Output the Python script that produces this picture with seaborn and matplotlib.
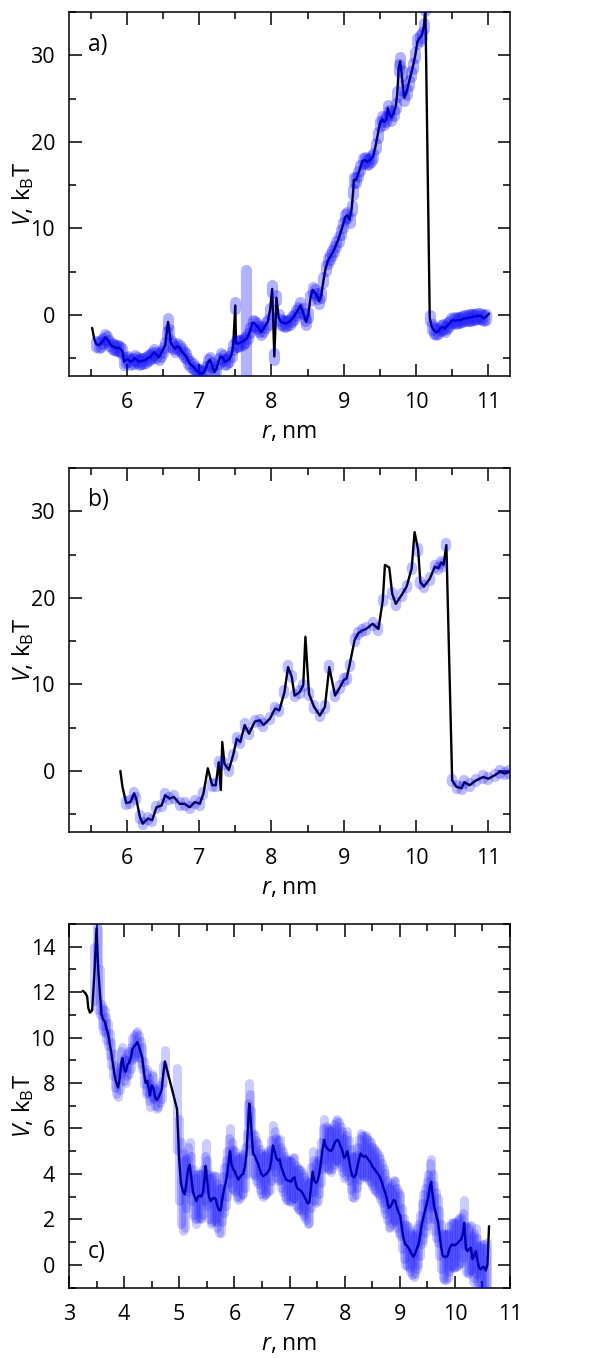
import numpy as np
import pandas as pd
import matplotlib
matplotlib.use("Agg")
import matplotlib.pyplot as plt
from matplotlib.ticker import MultipleLocator
import seaborn as sns

# ---------------- data ----------------
N = None
r_a = [5.52, 5.55, 5.58, 5.61, 5.64, 5.67, 5.70, 5.73, 5.76, 5.79, 5.82, 5.85, 5.88, 5.91, 5.94,
       5.96, 5.99, 6.02, 6.05, 6.08, 6.11, 6.14, 6.17, 6.20, 6.23, 6.26, 6.29, 6.32, 6.35, 6.38, 6.41, 6.44, 6.47, 6.50, 6.53,
       6.55, 6.57, 6.59, 6.61, 6.64, 6.67, 6.70, 6.73, 6.76, 6.79, 6.82, 6.85, 6.88, 6.91, 6.94, 6.97, 7.00, 7.03, 7.06, 7.09,
       7.12, 7.15, 7.18, 7.21, 7.24, 7.27, 7.30, 7.33, 7.36, 7.39, 7.42, 7.45, 7.47, 7.50, 7.51, 7.54, 7.57, 7.60, 7.63, 7.65, 7.68,
       7.71, 7.74, 7.77, 7.80, 7.83, 7.86, 7.89, 7.92, 7.95, 7.98, 8.01, 8.04, 8.07, 8.10, 8.13, 8.16, 8.19, 8.22, 8.25,
       8.28, 8.31, 8.34, 8.37, 8.40, 8.43, 8.46, 8.48, 8.51, 8.54, 8.57, 8.60, 8.63, 8.66, 8.69, 8.72, 8.75, 8.78, 8.81, 8.84,
       8.87, 8.90, 8.93, 8.96, 8.99, 9.02, 9.05, 9.08, 9.11, 9.13, 9.14, 9.17, 9.20, 9.23, 9.26, 9.29, 9.32, 9.35, 9.38, 9.41,
       9.44, 9.47, 9.50, 9.53, 9.56, 9.59, 9.61, 9.63, 9.66, 9.69, 9.72, 9.74, 9.76, 9.78, 9.80, 9.82, 9.84, 9.87, 9.90, 9.93, 9.96,
       9.99, 10.02, 10.05, 10.08, 10.11, 10.13, 10.19, 10.22, 10.25, 10.28, 10.31, 10.34, 10.37, 10.40, 10.43, 10.46, 10.49,
       10.52, 10.55, 10.58, 10.61, 10.64, 10.67, 10.70, 10.73, 10.76, 10.79, 10.82, 10.85, 10.88, 10.91, 10.94, 10.97, 11.01]
V_a = [-1.5, -2.8, -3.4, -3.5, -3.3, -3.0, -2.6, -2.8, -3.2, -3.6, -3.7, -3.8, -3.8, -3.9, -4.2,
       -5.4, -5.2, -5.1, -5.4, -5.3, -5.0, -5.2, -5.4, -5.3, -5.3, -5.2, -5.0, -4.9, -4.6, -4.3, -4.6, -4.9, -4.5, -4.0, -3.5,
       -2.2, -0.8, -2.0, -3.3, -3.6, -3.9, -3.6, -3.8, -4.2, -4.5, -4.8, -5.3, -5.7, -5.9, -6.2, -6.5, -6.6, -6.8, -6.7, -6.2,
       -5.5, -5.2, -5.8, -6.6, -6.2, -5.3, -4.8, -5.0, -5.4, -5.3, -5.1, -4.5, -3.7, 1.1, -3.3, -3.3, -3.2, -3.1, -2.9, -2.8, -2.4,
       -1.7, -0.9, -1.0, -1.3, -1.6, -2.0, -1.6, -1.2, -0.8, 0.5, 3.0, -4.8, 2.0, -0.3, -0.8, -0.9, -1.0, -0.9, -0.8,
       -0.5, -0.2, 0.2, 0.6, 1.1, 0.5, -0.3, -0.8, 0.0, 2.0, 2.9, 2.6, 2.2, 1.6, 2.3, 4.0, 5.4, 6.2, 6.7, 7.1,
       7.6, 8.2, 8.8, 9.6, 10.4, 11.3, 11.5, 11.0, 12.3, 14.2, 15.6, 15.6, 16.3, 17.0, 17.8, 17.9, 17.7, 17.8, 18.0, 18.4,
       19.5, 20.8, 22.1, 22.6, 22.3, 22.6, 23.9, 23.3, 22.8, 23.3, 24.1, 25.5, 28.5, 29.3, 28.0, 26.2, 25.1, 25.8, 26.8, 27.8, 28.8,
       30.0, 31.6, 32.0, 32.3, 33.4, 35.5, -0.4, -1.4, -1.8, -2.0, -1.9, -1.5, -1.4, -1.6, -1.3, -1.0, -0.7,
       -0.6, -0.7, -0.6, -0.6, -0.5, -0.4, -0.4, -0.3, -0.3, -0.2, -0.2, -0.1, -0.1, -0.2, -0.4, -0.2, 0.15]
err_a = [N, N, .35, .35, .35, .35, .35, .35, .35, .35, .35, .35, .35, .35, .35,
         .35, .35, .35, .35, .35, .35, .35, .35, .35, .35, .35, .35, .35, .35, .35, .35, .35, .35, .35, .35,
         .35, .45, .35, .35, .35, .35, .35, .35, .35, .35, .35, .35, .35, .35, .35, .35, .35, .35, .35, .35,
         .35, .35, .35, .35, .35, .35, .35, .35, .35, .35, .35, .35, .35, .4, .35, .35, .35, .35, .35, 8.0, .35,
         .35, .35, .35, .35, .35, .35, .35, .35, .35, .35, .45, .45, .35, .35, .35, .35, .35, .35, .35,
         .35, .35, .35, .35, .35, .35, .35, .35, .35, .35, .35, .35, .35, .35, .35, .35, .35, .35, .35, .35,
         .35, .35, .35, .35, .35, .35, .35, .35, .35, .35, .35, .35, .35, .35, .35, .35, .35, .35, .35, .35,
         .35, .35, .35, .35, .35, .35, .35, .35, .35, .35, .35, .35, .45, .45, .35, .35, .35, .35, .35, .35, .35,
         .35, .35, .35, .35, .35, .35, .35, .35, .35, .35, .35, .35, .35, .35, .35, .35, .35,
         .35, .35, .35, .35, .35, .35, .35, .35, .35, .35, .35, .35, .35, .35, .35, .35, N]

r_b = [5.91, 5.94, 5.99, 6.05, 6.10, 6.13, 6.18, 6.22, 6.29, 6.35, 6.41, 6.48, 6.53, 6.59,
       6.65, 6.73, 6.80, 6.87, 6.94, 7.01, 7.06, 7.12, 7.18, 7.23, 7.27, 7.30, 7.32, 7.35,
       7.41, 7.47, 7.52, 7.57, 7.63, 7.69, 7.77, 7.84, 7.89, 7.98, 8.05, 8.11, 8.18, 8.23,
       8.28, 8.32, 8.39, 8.44, 8.47, 8.52, 8.59, 8.67, 8.74, 8.80, 8.88, 8.95, 9.00, 9.04,
       9.08, 9.15, 9.20, 9.25, 9.31, 9.40, 9.48, 9.54, 9.57, 9.63, 9.67, 9.72, 9.80, 9.87,
       9.94, 9.98, 10.03, 10.06, 10.11, 10.19, 10.26, 10.31, 10.35, 10.38, 10.42, 10.50,
       10.56, 10.63, 10.67, 10.74, 10.83, 10.93, 11.00, 11.09, 11.16, 11.23, 11.29]
V_b = [0.0, -1.85, -3.7, -3.6, -2.6, -3.2, -5.3, -6.1, -5.5, -5.7, -4.2, -4.0, -2.8, -3.2,
       -3.0, -3.8, -3.8, -4.2, -3.6, -3.8, -2.6, 0.3, -1.65, -1.65, 1.0, -2.2, 3.35, 0.85,
       0.1, 1.8, 3.7, 3.35, 5.3, 4.3, 5.7, 5.85, 5.3, 6.05, 7.2, 7.0, 9.1, 12.0,
       10.9, 8.7, 9.1, 9.9, 15.5, 8.9, 7.4, 6.4, 7.4, 12.0, 8.7, 9.7, 10.5, 10.7,
       12.2, 15.1, 15.9, 16.2, 16.4, 17.0, 16.4, 19.7, 23.8, 23.5, 20.5, 19.3, 20.3, 21.3,
       23.4, 27.6, 25.5, 21.8, 21.3, 22.2, 23.6, 23.4, 24.1, 23.8, 26.1, -1.1,
       -1.85, -2.0, -1.3, -1.65, -1.1, -0.7, -0.9, -0.5, -0.1, -0.3, -0.1]
err_b = [N, N, .2, .2, .2, .2, .2, .2, .2, .2, .2, .2, .2, .2,
         .2, .2, .2, .2, .2, .2, .2, N, .2, .2, .2, N, N, .2,
         .2, .2, .2, .2, .2, .2, .2, .2, .2, .2, .2, .2, .2, .2,
         .2, .2, .2, .2, N, .2, .2, .2, .2, .2, .2, .2, .2, .2,
         .2, .2, .2, .2, .2, .2, .2, .2, N, N, .2, .2, .2, .2,
         .2, N, .2, .2, .2, .2, .2, .2, .2, .2, .2, .2,
         .2, .2, .2, .2, .2, .2, .2, .2, .2, .2, .2]

r_c = [3.25, 3.30, 3.33, 3.35, 3.38, 3.42, 3.46, 3.50, 3.53, 3.56,
       3.59, 3.62, 3.65, 3.68, 3.71, 3.74, 3.77, 3.80, 3.83, 3.86,
       3.89, 3.92, 3.95, 3.97, 4.00, 4.03, 4.06, 4.09, 4.12, 4.15,
       4.18, 4.21, 4.24, 4.27, 4.30, 4.33, 4.36, 4.39, 4.42, 4.45,
       4.47, 4.50, 4.53, 4.56, 4.59, 4.62, 4.65, 4.68, 4.71, 4.74,
       4.96, 5.00, 5.03, 5.07, 5.10, 5.13, 5.16, 5.19, 5.22, 5.25,
       5.28, 5.31, 5.34, 5.37, 5.40, 5.43, 5.46, 5.48, 5.51, 5.54,
       5.57, 5.60, 5.63, 5.66, 5.69, 5.72, 5.75, 5.78, 5.81, 5.84,
       5.87, 5.90, 5.92, 5.95, 5.98, 6.01, 6.04, 6.07, 6.10, 6.13,
       6.16, 6.19, 6.22, 6.25, 6.27, 6.29, 6.31, 6.34, 6.37, 6.40,
       6.43, 6.46, 6.49, 6.52, 6.55, 6.58, 6.61, 6.64, 6.67, 6.70,
       6.73, 6.76, 6.79, 6.82, 6.85, 6.88, 6.91, 6.94, 6.97, 7.00,
       7.03, 7.06, 7.09, 7.12, 7.15, 7.18, 7.21, 7.24, 7.27, 7.30,
       7.33, 7.36, 7.39, 7.42, 7.45, 7.48, 7.51, 7.54, 7.57, 7.60,
       7.63, 7.66, 7.69, 7.72, 7.75, 7.78, 7.81, 7.84, 7.87, 7.90,
       7.93, 7.96, 7.99, 8.02, 8.05, 8.08, 8.11, 8.14, 8.17, 8.20,
       8.23, 8.26, 8.29, 8.32, 8.35, 8.38, 8.41, 8.44, 8.47, 8.50,
       8.53, 8.56, 8.59, 8.62, 8.65, 8.68, 8.71, 8.74, 8.77, 8.80,
       8.83, 8.86, 8.89, 8.92, 8.95, 8.98, 9.01, 9.04, 9.07, 9.10,
       9.13, 9.16, 9.19, 9.22, 9.25, 9.28, 9.31, 9.34, 9.37, 9.40,
       9.43, 9.46, 9.49, 9.52, 9.55, 9.57, 9.60, 9.63, 9.66, 9.69,
       9.72, 9.75, 9.78, 9.81, 9.84, 9.87, 9.90, 9.93, 9.96, 9.99,
       10.02, 10.05, 10.08, 10.11, 10.14, 10.17, 10.20, 10.23, 10.26, 10.29,
       10.32, 10.35, 10.38, 10.41, 10.44, 10.47, 10.50, 10.53, 10.56, 10.59, 10.62]
V_c = [12.06, 11.95, 11.8, 11.3, 11.1, 11.2, 12.8, 14.8, 13.0, 12.0,
       11.0, 10.8, 10.7, 10.4, 10.15, 9.7, 9.3, 8.8, 8.3, 8.0,
       7.8, 8.2, 8.9, 9.1, 8.6, 8.5, 8.8, 8.9, 9.1, 9.5,
       9.6, 9.7, 9.8, 9.6, 9.35, 9.1, 8.45, 8.0, 8.1, 7.7,
       7.45, 7.9, 7.8, 7.4, 7.25, 7.35, 7.5, 7.7, 8.4, 8.95,
       6.85, 4.6, 3.6, 3.2, 3.1, 3.6, 4.2, 4.4, 3.8, 3.2,
       3.0, 2.8, 3.0, 3.05, 3.0, 3.2, 3.8, 4.35, 3.6, 3.0,
       2.8, 2.9, 2.95, 2.9, 2.6, 2.4, 2.4, 2.9, 3.3, 3.6,
       4.0, 4.6, 5.0, 4.4, 4.2, 4.1, 3.9, 3.75, 3.85, 3.95,
       4.0, 4.3, 4.9, 6.2, 7.1, 6.6, 5.9, 4.9, 4.8, 4.6,
       4.45, 4.2, 4.0, 3.9, 3.95, 4.0, 4.1, 4.2, 4.6, 5.25,
       5.0, 4.7, 4.6, 4.65, 4.3, 4.1, 3.9, 3.75, 3.7, 3.7,
       3.65, 3.8, 3.85, 3.5, 3.35, 3.3, 3.25, 3.15, 3.0, 2.85,
       2.7, 2.75, 3.4, 4.1, 3.7, 3.6, 3.7, 4.0, 4.5, 5.1,
       5.5, 5.2, 5.1, 5.05, 5.0, 5.1, 5.3, 5.45, 5.5, 5.4,
       5.2, 5.0, 4.7, 4.8, 5.0, 4.6, 4.2, 3.9, 3.85, 3.95,
       4.3, 4.65, 4.9, 4.8, 4.75, 4.8, 4.7, 4.6, 4.5, 4.35,
       4.25, 4.15, 4.05, 3.95, 3.8, 3.6, 3.35, 3.15, 2.85, 2.5,
       2.55, 2.7, 2.85, 2.8, 2.5, 2.3, 2.15, 1.6, 1.15, 0.9,
       0.85, 0.75, 0.6, 0.45, 0.35, 0.5, 0.7, 0.9, 1.3, 1.8,
       2.1, 2.4, 2.7, 3.0, 3.5, 3.65, 3.0, 2.5, 2.2, 1.95,
       1.4, 0.8, 0.4, 0.35, 0.35, 0.4, 0.7, 0.85, 0.9, 0.85,
       0.9, 0.95, 1.05, 1.1, 1.3, 1.85, 0.7, 0.6, 0.7, 0.75,
       0.25, 0.4, 0.6, 0.2, -0.15, -0.2, -0.1, -0.1, -0.25, 0.0, 1.7]
err_c = [N, N, N, N, N, N, 1.2, 1.5, 1.8, 1.0,
         .5, .5, .5, .5, .5, .5, .5, .5, .5, .5,
         .4, .5, .5, .5, .5, .5, .5, .5, .5, .5,
         .5, .5, .5, .5, .5, .5, .5, .5, .5, .5,
         .5, .5, .5, .4, .4, .4, .4, .4, .4, .5,
         1.8, 1.8, 1.8, 1.7, 1.5, 1.1, 1.0, 1.0, 1.0, 1.0,
         1.0, 1.0, 1.0, 1.0, 1.0, 1.0, 1.0, 1.0, 1.0, 1.0,
         1.0, 1.0, 1.0, 1.0, 1.0, 1.0, 1.0, 1.0, 1.0, 1.0,
         1.0, 1.0, 1.0, 1.0, .9, .9, .9, .9, .9, .9,
         .9, .9, .9, .9, .9, .9, .9, .9, .9, .9,
         .9, .9, .9, .9, .9, .9, .9, .9, .9, .9,
         .9, .9, .9, .9, .9, .9, .9, .9, .9, .9,
         .9, .9, .9, .9, .9, .9, .9, .9, .9, .9,
         .9, .9, .9, .9, .9, .9, .9, .9, .9, .9,
         .9, .9, .9, .9, .9, .9, .9, .9, .9, .9,
         .9, .9, .9, .9, .9, .9, .9, .9, .9, .9,
         .9, .9, .9, .9, .9, .9, .9, .9, .9, .9,
         .9, .9, .9, .9, .9, .9, .9, .9, .9, .9,
         .9, .9, .9, .9, .9, .9, .9, .9, .9, .9,
         .9, .9, .9, .9, .9, .9, .9, .9, .9, .9,
         1.0, 1.0, 1.0, 1.0, 1.0, 1.0, 1.0, 1.0, 1.0, 1.0,
         1.0, 1.0, 1.0, 1.0, 1.0, 1.0, 1.0, 1.0, 1.0, 1.0,
         1.0, 1.0, 1.0, 1.0, 1.0, 1.0, 1.0, 1.0, 1.0, 1.0,
         1.0, 1.0, 1.0, 1.0, 1.0, 1.0, 1.0, 1.0, 1.0, 1.0, N]

panel_tags = ["a)", "b)", "c)"]
xlims = [(5.2, 11.3), (5.2, 11.3), (3.0, 11.0)]
ylims = [(-7, 35), (-7, 35), (-1, 15)]
y_major = [10, 10, 2]
y_minor = [5, 5, 1]

# ---------------- style ----------------
sns.set_theme(style="ticks")
plt.rcParams["font.family"] = ["Open Sans", "DejaVu Sans"]
plt.rcParams["mathtext.fontset"] = "custom"
plt.rcParams["mathtext.rm"] = "Open Sans"
plt.rcParams["mathtext.it"] = "Open Sans:italic"
plt.rcParams["axes.linewidth"] = 1.1
for k in ["text.color", "axes.labelcolor", "xtick.color", "ytick.color", "axes.edgecolor"]:
    plt.rcParams[k] = "black"

fig = plt.figure(figsize=(6.11, 13.58), dpi=100)
L, W, H = 69 / 611, 441 / 611, 363.5 / 1358
tops = [12, 468, 924]
axes = [fig.add_axes([L, 1 - (t + 363.5) / 1358, W, H]) for t in tops]

datasets = [(r_a, V_a, err_a), (r_b, V_b, err_b), (r_c, V_c, err_c)]
alphas = [0.3, 0.25, 0.2]
bar_w = [8, 7.5, 6.5]
tag_y = [0.91, 0.912, 0.098]

for i, (ax, (r, V, e)) in enumerate(zip(axes, datasets)):
    df = pd.DataFrame({"r": r, "V": V, "err": [np.nan if x is None else x for x in e]})
    sns.lineplot(data=df, x="r", y="V", ax=ax, color="black", linewidth=1.7,
                 sort=False, estimator=None, zorder=2)
    m = df.dropna()
    ax.vlines(m["r"], m["V"] - m["err"], m["V"] + m["err"], colors="#0000ff",
              alpha=alphas[i], linewidth=bar_w[i], capstyle="round", zorder=3)
    ax.set_xlim(*xlims[i])
    ax.set_ylim(*ylims[i])
    ax.xaxis.set_major_locator(MultipleLocator(1))
    ax.xaxis.set_minor_locator(MultipleLocator(0.5))
    ax.yaxis.set_major_locator(MultipleLocator(y_major[i]))
    ax.yaxis.set_minor_locator(MultipleLocator(y_minor[i]))
    ax.tick_params(which="both", direction="in", top=True, right=True,
                   width=1.1, labelsize=15.5)
    ax.tick_params(axis="x", which="major", pad=12)
    ax.tick_params(axis="y", which="major", pad=10)
    ax.tick_params(which="major", length=9)
    ax.tick_params(which="minor", length=5)
    ax.set_xlabel(r"$\mathit{r}$, nm", fontsize=16.5, labelpad=5)
    ax.set_ylabel(r"$\mathit{V}$, k$_\mathrm{B}$T", fontsize=17, labelpad=-4)
    ax.text(0.043, tag_y[i], panel_tags[i], transform=ax.transAxes, fontsize=16.5,
            ha="left", va="center")

fig.savefig("out.png", dpi=100)
